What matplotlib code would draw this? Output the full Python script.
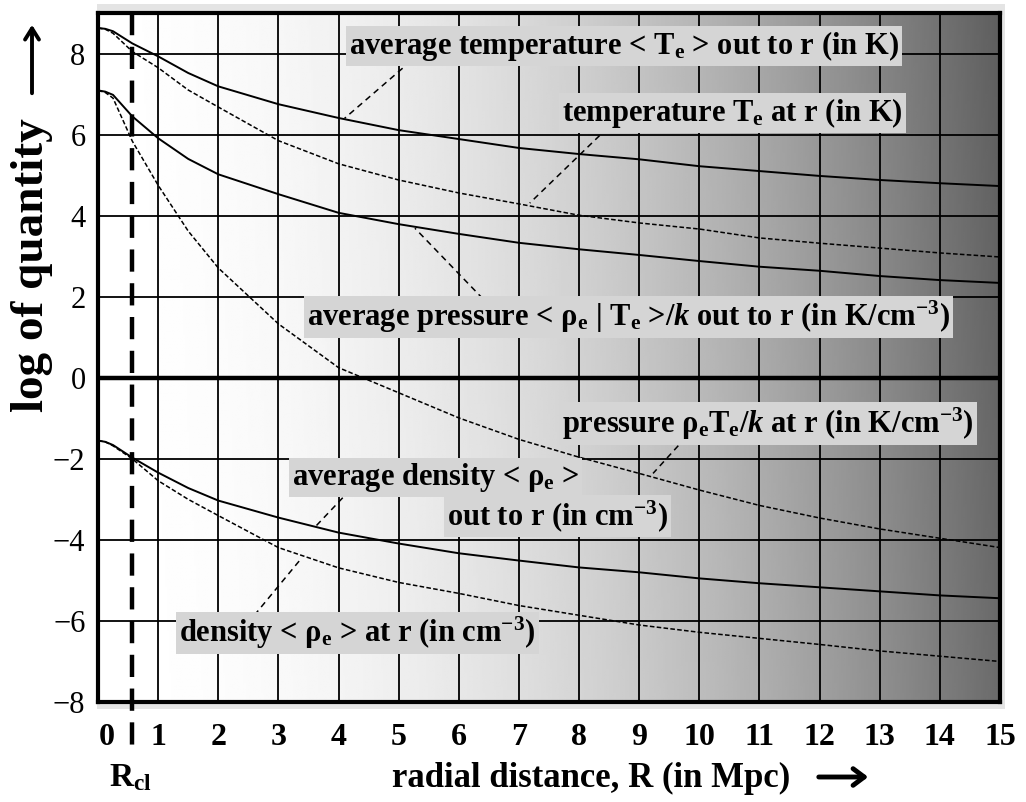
import numpy as np
import matplotlib.pyplot as plt
from matplotlib.patches import Rectangle
from matplotlib.transforms import offset_copy

plt.rcParams['font.family'] = ['Liberation Serif', 'DejaVu Serif']
plt.rcParams['mathtext.fontset'] = 'custom'
plt.rcParams['mathtext.rm'] = 'Liberation Serif:bold'
plt.rcParams['mathtext.it'] = 'Liberation Serif:bold:italic'
plt.rcParams['mathtext.bf'] = 'Liberation Serif:bold'

# radial distance (Mpc) and log of each quantity
r = [0, 0.12, 0.25, 0.57, 1, 1.5, 2, 3, 4, 5, 6, 7, 8, 9, 10, 11, 12, 13, 14, 15]
avg_temp = [8.63, 8.61, 8.55, 8.25, 7.93, 7.52, 7.19, 6.75, 6.41, 6.11, 5.89, 5.67,
            5.52, 5.39, 5.22, 5.10, 4.98, 4.88, 4.80, 4.73]
temp = [8.63, 8.60, 8.50, 8.05, 7.65, 7.10, 6.68, 5.85, 5.28, 4.88, 4.56, 4.29,
        4.01, 3.82, 3.67, 3.45, 3.32, 3.20, 3.08, 2.98]
avg_pressure = [7.09, 7.06, 6.98, 6.45, 5.91, 5.40, 5.02, 4.53, 4.07, 3.79, 3.55,
                3.33, 3.17, 3.03, 2.88, 2.74, 2.64, 2.51, 2.41, 2.34]
pressure = [7.09, 7.04, 6.90, 5.84, 4.75, 3.62, 2.71, 1.33, 0.25, -0.37, -0.99,
            -1.52, -1.96, -2.36, -2.77, -3.15, -3.46, -3.73, -3.96, -4.19]
avg_density = [-1.55, -1.58, -1.66, -1.97, -2.34, -2.72, -3.03, -3.45, -3.82, -4.09,
               -4.33, -4.51, -4.68, -4.80, -4.95, -5.07, -5.17, -5.27, -5.37, -5.44]
density = [-1.55, -1.58, -1.68, -2.00, -2.54, -3.00, -3.40, -4.19, -4.69, -5.05,
           -5.32, -5.62, -5.86, -6.10, -6.28, -6.43, -6.58, -6.74, -6.87, -7.00]

r_cl = 0.57
x_ticks = list(range(0, 16))
y_ticks = [-8, -6, -4, -2, 0, 2, 4, 6, 8]

# label text, text position, pointer start, pointer end
labels = [
    ('average temperature < T$_{\\rm e}$ > out to r (in K)', (4.17, 8.18), (5.2, 7.81), (4.1, 6.40)),
    ('temperature T$_{\\rm e}$ at r (in K)', (7.72, 6.53), (8.47, 6.16), (7.18, 4.31)),
    ('average pressure < ρ$_{\\rm e}$ | T$_{\\rm e}$ >/$k$ out to r (in K/cm$^{-3}$)', (3.48, 1.5), (6.4, 1.95), (5.27, 3.69)),
    ('pressure ρ$_{\\rm e}$T$_{\\rm e}$/$k$ at r (in K/cm$^{-3}$)', (7.72, -1.13), (9.77, -1.48), (9.23, -2.36)),
    ('average density < ρ$_{\\rm e}$ >', (3.22, -2.46), (4.07, -2.96), (3.63, -3.65)),
    ('out to r (in cm$^{-3}$)', (5.8, -3.42), None, None),
    ('density < ρ$_{\\rm e}$ > at r (in cm$^{-3}$)', (1.35, -6.3), (2.6, -5.86), (3.38, -4.46)),
]

fig = plt.figure(figsize=(10.26, 8.02), dpi=100)
ax = fig.add_axes([98 / 1026, 1 - 702 / 802, 902 / 1026, 689 / 802])

# faint shadow round the plot box
fig.patches.append(Rectangle((97 / 1026, 1 - 709 / 802), 908 / 1026, 705 / 802,
                             transform=fig.transFigure, fc='#e4e4e4', ec='none', zorder=-5))

# background shading, white on the left to dark grey on the right
gx = np.linspace(0, 1, 400)
gy = np.linspace(0, 1, 200)
GX, GY = np.meshgrid(gx, gy)
shade = 1 - 0.58 * GX ** 2 - 0.05 * GX * GY
ax.imshow(shade, extent=[0, 15, -8, 9], origin='lower', aspect='auto',
          cmap='gray', vmin=0, vmax=1, zorder=0)

for xv in x_ticks[1:-1]:
    ax.axvline(xv, color='black', lw=1.3, zorder=1)
for yv in y_ticks[1:]:
    ax.axhline(yv, color='black', lw=1.3, zorder=1)
ax.axhline(0, color='black', lw=3.2, zorder=1)

ax.plot(r, avg_temp, color='black', lw=1.4, zorder=2)
ax.plot(r, temp, color='black', lw=1.1, dashes=(3, 1.5), zorder=2)
ax.plot(r, avg_pressure, color='black', lw=1.4, zorder=2)
ax.plot(r, pressure, color='black', lw=1.1, dashes=(3, 1.5), zorder=2)
ax.plot(r, avg_density, color='black', lw=1.4, zorder=2)
ax.plot(r, density, color='black', lw=1.1, dashes=(3, 1.5), zorder=2)

# R_cl marker
ax.plot([r_cl, r_cl], [9, -9.25], color='black', lw=3.2, dashes=(5, 2.6),
        zorder=4, clip_on=False)
fig.text(130 / 1026, 1 - 778 / 802, 'R$_{\\rm cl}$', fontsize=24,
         ha='center', va='center', fontweight='bold')

for text, pos, p0, p1 in labels:
    ax.text(pos[0], pos[1], text, fontsize=22, fontweight='bold', ha='left',
            va='center', zorder=5,
            bbox=dict(boxstyle='square,pad=0.1', fc='#d5d5d5', ec='none'))
    if p0 is not None:
        ax.plot([p0[0], p1[0]], [p0[1], p1[1]], color='black', lw=1.1,
                dashes=(4, 3), zorder=3)

ax.set_xlim(0, 15)
ax.set_ylim(-8, 9)
ax.set_xticks(x_ticks)
ax.set_xticklabels([str(v) for v in x_ticks], fontsize=23, fontweight='bold')
ax.set_yticks(y_ticks)
ax.set_yticklabels([str(v).replace('-', '\u2212') for v in y_ticks], fontsize=22)
ax.tick_params(axis='x', length=0, pad=15)
ax.tick_params(axis='y', length=0, pad=9)
# the "0" label sits a little right of the axis in the original
zero_lbl = ax.get_xticklabels()[0]
zero_lbl.set_transform(offset_copy(zero_lbl.get_transform(), fig=fig, x=9, units='dots'))
for s in ax.spines.values():
    s.set_linewidth(3)
    s.set_zorder(6)

fig.text(32 / 1026, 1 - 265 / 802, 'log of quantity', rotation=90,
         fontsize=34, fontweight='bold', ha='center', va='center')
fig.text(392 / 1026, 1 - 778 / 802, 'radial distance, R (in Mpc)',
         fontsize=25, fontweight='bold', ha='left', va='center')

# axis-title arrows
fig.add_artist(plt.matplotlib.patches.FancyArrowPatch(
    (32 / 1026, 1 - 96 / 802), (32 / 1026, 1 - 22 / 802), transform=fig.transFigure,
    arrowstyle='->,head_length=8,head_width=5', lw=2.8, color='black'))
fig.add_artist(plt.matplotlib.patches.FancyArrowPatch(
    (816 / 1026, 1 - 777 / 802), (871 / 1026, 1 - 777 / 802), transform=fig.transFigure,
    arrowstyle='->,head_length=8,head_width=6', lw=3.5, color='black'))

fig.savefig('out.png', dpi=100)
